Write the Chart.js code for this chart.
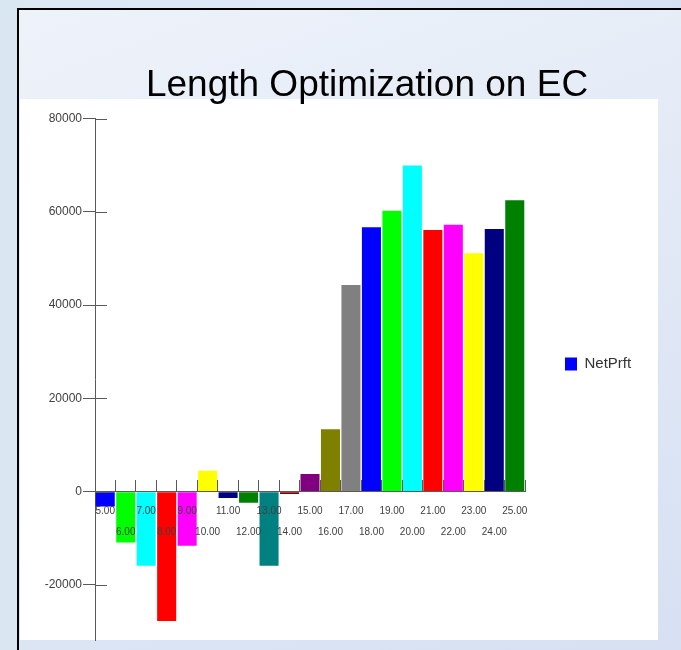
<!DOCTYPE html>
<html>
<head>
<meta charset="utf-8">
<script src="https://cdn.jsdelivr.net/npm/chart.js@4/dist/chart.umd.min.js"></script>
<style>
  html, body { margin: 0; padding: 0; width: 681px; height: 650px; overflow: hidden; }
  body { position: relative; background: linear-gradient(90deg, #d9e7f3 0%, #dfe8f6 50%, #d5e0f3 100%); }
  #frame { position: absolute; left: 17px; top: 8px; width: 700px; height: 700px; border: 2px solid #000;
           background: linear-gradient(160deg, #eef3fa 0%, #e3eaf6 40%, #d4dff2 100%); }
  #plot { position: absolute; left: 20px; top: 99px; width: 638px; height: 541px; background: #fff; }
  #wrap { position: absolute; left: 0; top: 0; width: 681px; height: 650px; }
</style>
</head>
<body>
<div id="frame"></div>
<div id="plot"></div>
<div id="wrap"><canvas id="c" width="681" height="650"></canvas></div>
<script>
// Trade length setting vs. net profit
const categories = ['5.00', '6.00', '7.00', '8.00', '9.00', '10.00', '11.00', '12.00', '13.00', '14.00',
  '15.00', '16.00', '17.00', '18.00', '19.00', '20.00', '21.00', '22.00', '23.00', '24.00', '25.00'];
const netPrft = [-3200, -10900, -15900, -27700, -11600, 4500, -1350, -2350, -15900, -500,
  3800, 13400, 44300, 56700, 60200, 69900, 56100, 57200, 51100, 56300, 62500];
const barColors = ['#0000FF', '#00FF00', '#00FFFF', '#FF0000', '#FF00FF', '#FFFF00', '#000080', '#008000',
  '#008080', '#800000', '#800080', '#808000', '#808080', '#0000FF', '#00FF00', '#00FFFF', '#FF0000',
  '#FF00FF', '#FFFF00', '#000080', '#008000'];
const yTickValues = [-20000, 0, 20000, 40000, 60000, 80000];
const yMin = -31800;
const yMax = 80000;
const seriesName = 'NetPrft';
const chartTitle = 'Length Optimization on EC';

// odd settings on the first row, even settings on the second
const xTickLabels = categories.map((c, i) => (i % 2 === 0 ? [c] : ['', c]));

const sansFamily = "'Liberation Sans', Arial, sans-serif";
const axisColor = '#5a5a5a';
const labelColor = '#404040';

// layout: plot spans x 95..525, legend column to its right
const plotLeft = 95;
const plotRight = 525;
const titleCenter = 367;
const legendPad = 40;
const legendFont = 15;
const legendBox = 12;
const mctx = document.createElement('canvas').getContext('2d');
mctx.font = legendFont + 'px ' + sansFamily;
const legendWidth = legendPad + legendBox + legendFont / 2 + mctx.measureText(seriesName).width + 10;
const padRight = Math.max(0, 681 - plotRight - legendWidth);

// y ticks cross the axis: inner half drawn here, outer half by the scale grid
const crossTicks = {
  id: 'crossTicks',
  afterDatasetsDraw(chart) {
    const ys = chart.scales.y;
    const area = chart.chartArea;
    const ctx = chart.ctx;
    ctx.save();
    ctx.strokeStyle = axisColor;
    ctx.lineWidth = 1;
    ys.ticks.forEach(t => {
      const py = Math.round(ys.getPixelForValue(t.value)) + 0.5;
      ctx.beginPath();
      ctx.moveTo(area.left, py);
      ctx.lineTo(area.left + 12, py);
      ctx.stroke();
    });
    ctx.restore();
  }
};

// the heading sits right of the canvas centre
const titleShift = {
  id: 'titleShift',
  afterLayout(chart) {
    const t = chart.titleBlock;
    if (!t) return;
    const dx = titleCenter - (t.left + t.right) / 2;
    t.left += dx;
    t.right += dx;
  }
};

new Chart(document.getElementById('c'), {
  type: 'bar',
  data: {
    labels: categories,
    datasets: [{
      label: seriesName,
      data: netPrft,
      backgroundColor: barColors,
      borderWidth: 0,
      barPercentage: 0.93,
      categoryPercentage: 1
    }]
  },
  options: {
    responsive: false,
    animation: false,
    layout: { padding: { left: 0, right: padRight, top: 0, bottom: 10 } },
    scales: {
      x: {
        position: { y: 0 },
        offset: true,
        grid: { z: 1, offset: true, drawOnChartArea: false, tickLength: -12, color: axisColor, lineWidth: 1 },
        border: { z: 1, color: axisColor, width: 1 },
        ticks: {
          z: 1, autoSkip: false, maxRotation: 0, minRotation: 0, padding: 20.8, color: labelColor,
          font: { family: sansFamily, size: 10, lineHeight: 21.5 / 10 },
          callback: (v, i) => xTickLabels[i]
        }
      },
      y: {
        min: yMin,
        max: yMax,
        afterBuildTicks: s => { s.ticks = yTickValues.map(v => ({ value: v })); },
        afterFit: s => { s.width = plotLeft; },
        grid: { drawOnChartArea: false, tickLength: 12, color: axisColor, lineWidth: 1 },
        border: { color: axisColor, width: 1 },
        ticks: { padding: 1, color: labelColor, font: { family: sansFamily, size: 12 }, callback: v => String(v) }
      }
    },
    plugins: {
      title: {
        display: true,
        text: chartTitle,
        color: '#000',
        font: { family: sansFamily, size: 37, weight: 'normal', lineHeight: 1 },
        padding: { top: 67.7, bottom: 13.8 }
      },
      legend: {
        position: 'right',
        align: 'center',
        fullSize: true,
        title: { display: true, text: ' ', font: { size: 10, lineHeight: 1 }, padding: { top: 0, bottom: 78 } },
        labels: {
          boxWidth: legendBox, boxHeight: 13, padding: legendPad, color: '#333',
          font: { family: sansFamily, size: legendFont }
        }
      },
      tooltip: { enabled: false }
    }
  },
  plugins: [crossTicks, titleShift]
});
</script>
</body>
</html>
